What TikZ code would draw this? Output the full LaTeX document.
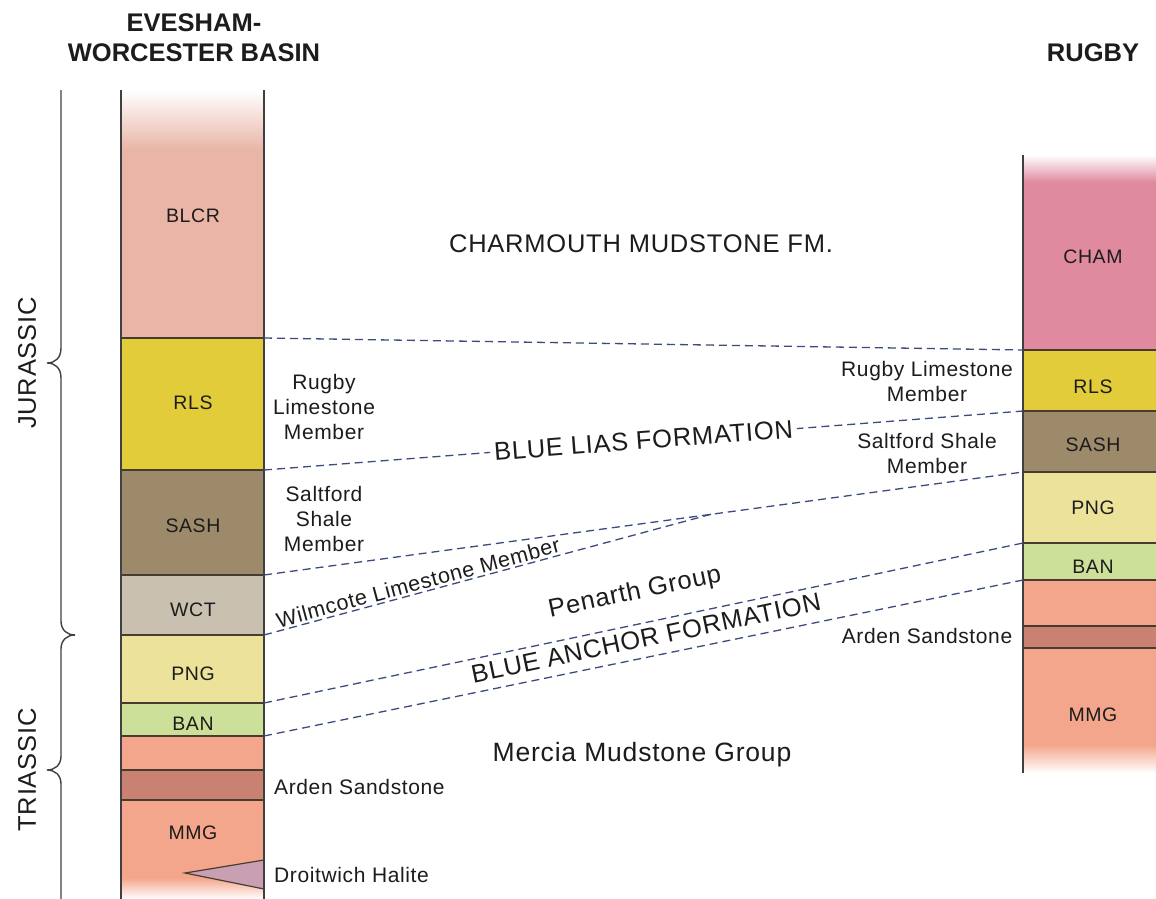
\documentclass[tikz,border=0pt]{standalone}
\usepackage{fontspec}
\setmainfont{Liberation Sans}[LetterSpace=3]
\newfontfamily\headfont{Liberation Sans}
\usetikzlibrary{positioning}

\definecolor{blcr}{RGB}{232,181,166}
\definecolor{cham}{RGB}{224,138,160}
\definecolor{rls}{RGB}{226,204,58}
\definecolor{sash}{RGB}{156,138,106}
\definecolor{wct}{RGB}{201,192,176}
\definecolor{png}{RGB}{237,226,154}
\definecolor{ban}{RGB}{205,224,154}
\definecolor{mmg}{RGB}{244,166,140}
\definecolor{arden}{RGB}{201,130,113}
\definecolor{halite}{RGB}{200,160,178}
\definecolor{corrblue}{RGB}{60,74,128}
\definecolor{bedline}{RGB}{72,60,48}
\definecolor{frameline}{RGB}{64,64,64}
\definecolor{ink}{RGB}{28,28,28}

\begin{document}
\begin{tikzpicture}[x=1pt, y=-1pt,
		bed/.style={draw=bedline, line width=1.4pt},
		frame/.style={draw=frameline, line width=1.4pt},
		corr/.style={draw=corrblue, line width=1.3pt, dash pattern=on 8pt off 5pt},
		unitlbl/.style={inner sep=0pt, text=ink, font=\fontsize{19.5}{23}\selectfont},
		memb/.style={inner sep=0pt, text=ink, align=center, font=\fontsize{21}{25}\selectfont},
		fmname/.style={inner sep=0pt, text=ink, font=\fontsize{25.5}{30}\selectfont},
		head/.style={inner sep=0pt, text=ink, align=center, font=\headfont\bfseries\fontsize{25.5}{30}\selectfont}]
\useasboundingbox (0,0) rectangle (1156,899);

% Evesham-Worcester column
\shade[top color=white, bottom color=blcr] (121,90) rectangle (264,150);
\fill[blcr] (121,150) rectangle (264,338);
\fill[rls] (121,338) rectangle (264,470);
\fill[sash] (121,470) rectangle (264,575);
\fill[wct] (121,575) rectangle (264,635);
\fill[png] (121,635) rectangle (264,703);
\fill[ban] (121,703) rectangle (264,736);
\fill[mmg] (121,736) rectangle (264,770);
\fill[arden] (121,770) rectangle (264,800);
\fill[mmg] (121,800) rectangle (264,878);
\shade[top color=mmg, bottom color=white] (121,878) rectangle (264,899);
\foreach \y in {338,470,575,635,703,736,770,800}
	\draw[bed] (121,\y) -- (264,\y);
\filldraw[fill=halite, draw=bedline, line width=1.2pt] (264,860) -- (185,873) -- (264,889);
\draw[frame] (121,90) -- (121,899);
\draw[frame] (264,90) -- (264,899);

% Rugby column
\shade[top color=white, bottom color=cham] (1023,155) rectangle (1156,182);
\fill[cham] (1023,182) rectangle (1156,350);
\fill[rls] (1023,350) rectangle (1156,411);
\fill[sash] (1023,411) rectangle (1156,472);
\fill[png] (1023,472) rectangle (1156,543);
\fill[ban] (1023,543) rectangle (1156,580);
\fill[mmg] (1023,580) rectangle (1156,626);
\fill[arden] (1023,626) rectangle (1156,648);
\fill[mmg] (1023,648) rectangle (1156,745);
\shade[top color=mmg, bottom color=white] (1023,745) rectangle (1156,773);
\foreach \y in {350,411,472,543,580,626,648}
	\draw[bed] (1023,\y) -- (1156,\y);
\draw[frame] (1023,155) -- (1023,773);

% period braces
\draw[frame] (61,90) -- (61,348) .. controls (61,358) and (55,363) .. (47,363)
	.. controls (55,363) and (61,368) .. (61,378) -- (61,621) .. controls (61,630) and (67,635) .. (75,635);
\draw[frame] (75,635) .. controls (67,635) and (61,640) .. (61,649) -- (61,756)
	.. controls (61,765) and (55,770) .. (47,770) .. controls (55,770) and (61,775) .. (61,784) -- (61,899);
\node[fmname, rotate=90] (jurassic) at (27,363) {JURASSIC};
\node[fmname, rotate=90] (triassic) at (27,770) {TRIASSIC};

% headings
\node[head] (westhead) at (194,38) {EVESHAM-\\WORCESTER BASIN};
\node[head] (easthead) at (1093,53) {RUGBY};

% unit codes
\node[unitlbl] (w-blcr) at (193,216) {BLCR};
\node[unitlbl] (w-rls) at (193,403) {RLS};
\node[unitlbl] (w-sash) at (193,526) {SASH};
\node[unitlbl] (w-wct) at (193,610) {WCT};
\node[unitlbl] (w-png) at (193,674) {PNG};
\node[unitlbl] (w-ban) at (193,724) {BAN};
\node[unitlbl] (w-mmg) at (193,833) {MMG};
\node[unitlbl] (e-cham) at (1093,257) {CHAM};
\node[unitlbl] (e-rls) at (1093,387) {RLS};
\node[unitlbl] (e-sash) at (1093,445) {SASH};
\node[unitlbl] (e-png) at (1093,508) {PNG};
\node[unitlbl] (e-ban) at (1093,567) {BAN};
\node[unitlbl] (e-mmg) at (1093,715) {MMG};

% member names
\node[memb] (w-rlsname) at (324,407) {Rugby\\Limestone\\Member};
\node[memb] (w-sashname) at (324,519) {Saltford\\Shale\\Member};
\node[memb, anchor=west] (w-arden) at (274,787) {Arden Sandstone};
\node[memb, anchor=west] (w-halite) at (274,875) {Droitwich Halite};
\node[memb] (e-rlsname) at (927,381) {Rugby Limestone\\Member};
\node[memb] (e-sashname) at (927,453) {Saltford Shale\\Member};
\node[memb] (e-arden) at (927,636) {Arden Sandstone};
\node[fmname] (charmouth) at (641,244) {CHARMOUTH MUDSTONE FM.};
\node[fmname, font=\fontsize{26.5}{30}\selectfont] (mercia) at (642,755) {Mercia Mudstone Group};

% correlation lines
\coordinate (L-rls) at (264,338);
\coordinate (R-rls) at (1023,350);
\coordinate (L-sash) at (264,470);
\coordinate (R-sash) at (1023,411);
\coordinate (L-wct) at (264,575);
\coordinate (R-png) at (1023,472);
\coordinate (L-png) at (264,635);
\coordinate (pinch) at (712,514);
\coordinate (L-ban) at (264,703);
\coordinate (R-ban) at (1023,543);
\coordinate (L-mmg) at (264,736);
\coordinate (R-mmg) at (1023,580);

\draw[corr] (L-rls) -- (R-rls);
\draw[corr] (L-sash) -- node[fmname, sloped, fill=white, inner sep=4pt] (blias) {BLUE LIAS FORMATION} (R-sash);
\draw[corr] (L-wct) -- (R-png);
\draw[corr] (L-png) -- node[memb, font=\fontsize{21.5}{25}\selectfont, pos=0.35, sloped, above=2pt] (wilmcote) {Wilmcote Limestone Member} (pinch);
\draw[corr] (L-ban) -- (R-ban);
\draw[corr] (L-mmg) -- (R-mmg);
\node[fmname, rotate=12] (penarth) at (635,593) {Penarth Group};
\node[fmname, rotate=11.8] (banchor) at (646,638) {BLUE ANCHOR FORMATION};
\end{tikzpicture}
\end{document}
